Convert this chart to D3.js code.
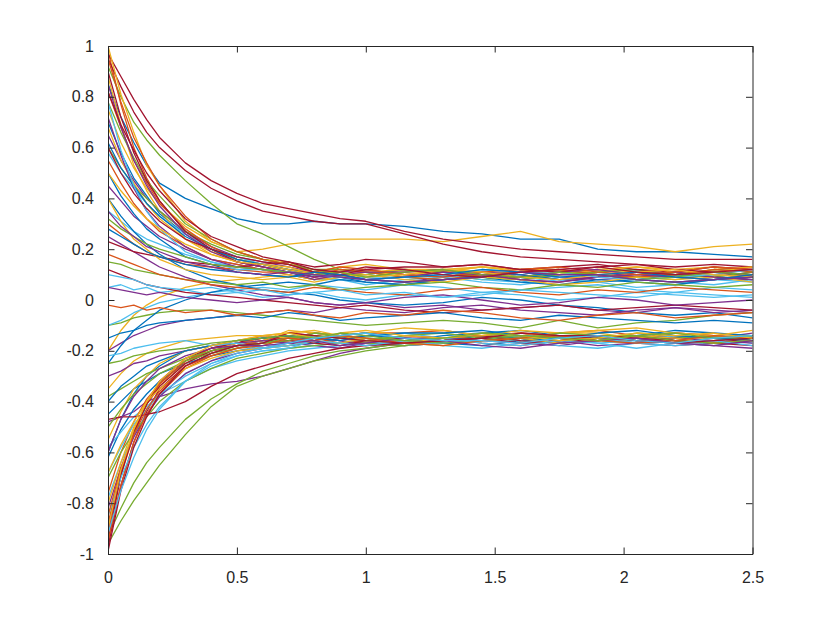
<!DOCTYPE html>
<html><head><meta charset="utf-8">
<script src="https://cdn.jsdelivr.net/npm/d3@7"></script>
<style>body{margin:0;background:#fff}svg{display:block}</style>
</head><body>
<svg id="chart" width="830" height="623"></svg>
<script>
// time samples (x) shared by every trajectory
const timePoints = [0,0.05,0.1,0.15,0.2,0.3,0.4,0.5,0.6,0.7,0.8,0.9,1,1.15,1.3,1.45,1.6,1.75,1.9,2.05,2.2,2.35,2.5];

// trajectories, value at each time point
const trajectories = [
[.85,.72,.62,.53,.46,.40,.36,.32,.30,.30,.31,.30,.30,.29,.27,.26,.24,.24,.20,.19,.19,.18,.17],
[.98,.77,.60,.48,.39,.27,.20,.15,.13,.11,.09,.11,.12,.10,.09,.11,.10,.08,.09,.11,.10,.11,.09],
[.75,.62,.52,.44,.38,.29,.23,.19,.20,.22,.23,.24,.24,.24,.23,.25,.27,.23,.22,.21,.19,.21,.22],
[.45,.39,.33,.29,.25,.20,.16,.14,.12,.11,.11,.10,.08,.07,.09,.10,.11,.09,.08,.09,.11,.10,.09],
[.92,.80,.70,.63,.57,.47,.38,.30,.26,.21,.16,.12,.11,.09,.10,.08,.09,.11,.10,.09,.08,.10,.09],
[.05,.06,.04,.05,.03,.04,.02,.03,.01,.02,.03,.01,.00,.02,.01,.03,.02,.00,.01,.03,.02,.01,.02],
[.97,.88,.79,.71,.64,.54,.47,.42,.38,.36,.34,.32,.31,.27,.24,.22,.20,.19,.18,.17,.16,.16,.16],

[.70,.58,.48,.41,.34,.26,.20,.16,.14,.12,.11,.09,.10,.12,.11,.09,.08,.10,.11,.12,.10,.09,.11],
[-.92,-.69,-.53,-.41,-.33,-.24,-.19,-.17,-.15,-.14,-.16,-.14,-.13,-.15,-.16,-.14,-.15,-.17,-.16,-.14,-.15,-.14,-.16],
[.88,.69,.53,.43,.35,.24,.18,.15,.13,.12,.11,.10,.09,.10,.11,.13,.12,.12,.10,.09,.10,.11,.13],
[-.48,-.46,-.44,-.40,-.38,-.35,-.33,-.32,-.30,-.27,-.24,-.21,-.19,-.17,-.16,-.15,-.16,-.14,-.15,-.16,-.14,-.15,-.13],
[-.93,-.82,-.72,-.64,-.58,-.47,-.39,-.33,-.28,-.25,-.22,-.20,-.19,-.17,-.16,-.15,-.16,-.14,-.15,-.16,-.15,-.14,-.15],
[.35,.31,.27,.24,.22,.18,.15,.13,.12,.10,.08,.08,.09,.09,.10,.08,.07,.09,.10,.08,.07,.06,.08],
[.95,.84,.74,.66,.60,.51,.44,.39,.35,.33,.31,.30,.30,.26,.22,.19,.17,.16,.15,.14,.13,.14,.13],

[-.62,-.51,-.43,-.37,-.32,-.25,-.20,-.18,-.16,-.15,-.13,-.14,-.15,-.16,-.14,-.13,-.12,-.14,-.15,-.14,-.12,-.13,-.14],
[.55,.46,.38,.32,.27,.21,.16,.14,.12,.10,.08,.10,.11,.11,.12,.10,.09,.11,.12,.10,.09,.08,.10],
[-.20,-.12,-.06,-.02,.01,.05,.07,.08,.09,.10,.08,.09,.11,.10,.12,.11,.09,.10,.12,.11,.10,.12,.13],
[.65,.55,.47,.40,.35,.27,.21,.17,.15,.13,.11,.11,.12,.10,.09,.11,.10,.08,.09,.11,.10,.11,.09],
[-.96,-.87,-.79,-.72,-.65,-.53,-.42,-.34,-.30,-.27,-.24,-.22,-.20,-.18,-.17,-.15,-.16,-.17,-.15,-.14,-.16,-.15,-.14],
[-.58,-.52,-.46,-.42,-.37,-.32,-.27,-.24,-.22,-.20,-.19,-.18,-.17,-.17,-.16,-.15,-.17,-.16,-.14,-.15,-.17,-.18,-.16],
[-.97,-.73,-.56,-.44,-.35,-.26,-.21,-.18,-.17,-.14,-.15,-.16,-.17,-.18,-.17,-.16,-.14,-.15,-.15,-.17,-.18,-.17,-.16],

[.50,.41,.34,.28,.24,.17,.14,.11,.10,.09,.10,.09,.07,.06,.08,.09,.10,.08,.07,.08,.10,.09,.08],
[-.88,-.67,-.52,-.41,-.33,-.24,-.19,-.17,-.15,-.15,-.16,-.14,-.13,-.13,-.12,-.14,-.15,-.13,-.12,-.14,-.15,-.16,-.14],
[1.0,.81,.66,.53,.45,.31,.23,.19,.16,.15,.11,.13,.14,.12,.11,.13,.12,.10,.11,.13,.12,.13,.11],
[.25,.22,.19,.16,.13,.09,.06,.04,.02,.01,-.01,-.02,-.01,-.03,-.02,-.04,-.03,-.02,-.04,-.05,-.03,-.04,-.05],
[.60,.52,.45,.40,.35,.27,.22,.18,.16,.14,.12,.10,.10,.12,.11,.09,.08,.10,.11,.12,.10,.09,.11],
[-.78,-.64,-.53,-.45,-.38,-.29,-.24,-.20,-.18,-.17,-.14,-.16,-.14,-.13,-.15,-.16,-.14,-.15,-.17,-.16,-.14,-.15,-.14],
[.23,.21,.19,.18,.17,.15,.14,.13,.14,.15,.13,.14,.16,.15,.13,.14,.12,.13,.14,.12,.11,.13,.12],

[-.45,-.40,-.35,-.32,-.29,-.25,-.22,-.20,-.19,-.18,-.17,-.15,-.14,-.15,-.17,-.18,-.16,-.15,-.14,-.16,-.17,-.16,-.14],
[.82,.68,.55,.46,.38,.28,.21,.16,.14,.12,.10,.09,.08,.07,.08,.09,.11,.10,.10,.08,.07,.08,.09],
[-.35,-.29,-.24,-.21,-.19,-.16,-.15,-.14,-.14,-.13,-.12,-.14,-.13,-.11,-.12,-.14,-.15,-.13,-.12,-.11,-.13,-.14,-.12],
[-.82,-.66,-.54,-.45,-.38,-.29,-.24,-.21,-.19,-.17,-.18,-.19,-.17,-.16,-.16,-.15,-.17,-.18,-.16,-.15,-.17,-.18,-.19],
[-.10,-.09,-.07,-.06,-.05,-.04,-.04,-.05,-.06,-.07,-.08,-.09,-.10,-.09,-.08,-.09,-.11,-.08,-.11,-.09,-.08,-.06,-.05],
[.58,.50,.44,.38,.33,.26,.20,.17,.14,.12,.10,.08,.06,.08,.09,.07,.06,.08,.07,.05,.06,.08,.07],
[-.95,-.69,-.52,-.41,-.32,-.23,-.19,-.17,-.14,-.15,-.13,-.14,-.16,-.17,-.15,-.14,-.13,-.15,-.16,-.15,-.13,-.14,-.15],

[.40,.33,.27,.22,.18,.12,.08,.06,.04,.03,.02,.00,-.01,-.02,-.01,.01,.00,-.02,-.03,-.05,-.06,-.05,-.07],
[-.76,-.60,-.48,-.39,-.33,-.24,-.20,-.18,-.16,-.13,-.14,-.15,-.16,-.17,-.16,-.15,-.13,-.14,-.14,-.16,-.17,-.16,-.15],
[.68,.55,.46,.38,.32,.24,.19,.16,.14,.13,.10,.09,.11,.12,.12,.13,.11,.10,.12,.13,.11,.10,.09],
[-.20,-.17,-.14,-.12,-.10,-.08,-.07,-.06,-.05,-.04,-.05,-.03,-.04,-.05,-.03,-.02,-.04,-.05,-.06,-.04,-.03,-.05,-.04],
[.78,.66,.56,.47,.41,.30,.24,.19,.16,.14,.12,.12,.11,.09,.08,.10,.11,.12,.10,.09,.10,.12,.11],
[-.68,-.58,-.49,-.43,-.37,-.30,-.25,-.22,-.20,-.19,-.18,-.17,-.16,-.18,-.17,-.15,-.16,-.18,-.19,-.17,-.16,-.15,-.17],
[.90,.72,.58,.47,.39,.27,.20,.15,.13,.11,.09,.10,.08,.09,.11,.10,.08,.07,.09,.10,.11,.09,.08],

[-.60,-.47,-.37,-.30,-.26,-.20,-.18,-.16,-.15,-.14,-.16,-.14,-.13,-.15,-.16,-.14,-.15,-.17,-.16,-.14,-.15,-.14,-.16],
[.30,.26,.22,.19,.17,.14,.13,.12,.11,.11,.10,.12,.11,.09,.08,.10,.11,.12,.10,.09,.10,.12,.11],
[-.80,-.64,-.50,-.41,-.34,-.25,-.20,-.17,-.16,-.12,-.13,-.14,-.15,-.16,-.15,-.14,-.12,-.13,-.13,-.15,-.16,-.15,-.14],
[.72,.57,.44,.35,.29,.21,.16,.13,.12,.11,.08,.10,.11,.11,.12,.10,.09,.11,.12,.10,.09,.08,.10],
[-.70,-.60,-.52,-.46,-.40,-.32,-.27,-.23,-.21,-.19,-.18,-.17,-.17,-.18,-.16,-.15,-.15,-.14,-.16,-.17,-.15,-.14,-.16],
[-.10,-.08,-.05,-.03,-.01,.01,.03,.04,.05,.04,.06,.05,.04,.06,.05,.03,.04,.05,.06,.04,.03,.05,.04],
[.12,.10,.08,.06,.05,.03,.02,.01,.00,-.01,-.02,-.03,-.02,-.04,-.05,-.04,-.03,-.02,-.04,-.03,-.02,-.03,-.04],

[-.25,-.18,-.12,-.08,-.04,.00,.03,.05,.06,.07,.06,.08,.07,.06,.08,.09,.07,.06,.08,.07,.06,.08,.09],
[-.95,-.73,-.56,-.45,-.37,-.27,-.22,-.19,-.17,-.16,-.15,-.17,-.16,-.14,-.15,-.17,-.18,-.16,-.15,-.14,-.16,-.17,-.15],
[.40,.31,.24,.20,.16,.12,.10,.09,.08,.09,.07,.09,.10,.08,.07,.09,.08,.06,.07,.09,.08,.09,.07],
[-.30,-.28,-.25,-.24,-.22,-.20,-.18,-.17,-.16,-.17,-.15,-.16,-.18,-.17,-.15,-.16,-.17,-.16,-.18,-.17,-.15,-.16,-.17],
[.15,.14,.12,.11,.10,.08,.07,.06,.07,.05,.06,.04,.05,.06,.07,.05,.04,.06,.05,.07,.06,.05,.06],
[-.85,-.70,-.58,-.49,-.42,-.32,-.26,-.22,-.20,-.19,-.16,-.17,-.15,-.16,-.18,-.19,-.17,-.16,-.15,-.17,-.18,-.17,-.15],
[-.90,-.68,-.52,-.41,-.34,-.25,-.20,-.18,-.17,-.16,-.17,-.18,-.16,-.15,-.15,-.14,-.16,-.17,-.15,-.14,-.16,-.17,-.18],

[.62,.52,.45,.38,.33,.25,.20,.16,.14,.12,.10,.09,.08,.07,.08,.09,.11,.10,.10,.08,.07,.08,.09],
[.18,.16,.14,.12,.10,.08,.06,.05,.04,.03,.05,.04,.03,.02,.04,.05,.03,.02,.04,.03,.05,.04,.03],
[-.55,-.44,-.35,-.30,-.25,-.20,-.18,-.16,-.14,-.15,-.13,-.14,-.16,-.17,-.15,-.14,-.13,-.15,-.16,-.15,-.13,-.14,-.15],
[.85,.68,.55,.45,.37,.26,.19,.15,.13,.11,.09,.10,.08,.09,.11,.10,.08,.07,.09,.10,.11,.09,.08],
[-.38,-.35,-.32,-.29,-.27,-.23,-.20,-.18,-.17,-.15,-.14,-.15,-.16,-.14,-.13,-.15,-.14,-.16,-.15,-.13,-.14,-.15,-.16],
[.78,.59,.45,.35,.28,.19,.15,.12,.12,.11,.10,.09,.08,.09,.10,.12,.11,.11,.09,.08,.09,.10,.12],
[-.47,-.46,-.46,-.45,-.44,-.40,-.34,-.29,-.26,-.23,-.21,-.19,-.18,-.17,-.16,-.15,-.17,-.16,-.14,-.15,-.16,-.17,-.15],

[-.40,-.34,-.30,-.26,-.24,-.20,-.18,-.16,-.15,-.14,-.15,-.16,-.14,-.13,-.13,-.12,-.14,-.15,-.13,-.12,-.14,-.15,-.16],
[.95,.78,.64,.54,.45,.33,.24,.19,.16,.14,.11,.13,.12,.10,.09,.11,.12,.13,.11,.10,.11,.13,.12],
[-.68,-.57,-.48,-.40,-.35,-.27,-.23,-.20,-.19,-.18,-.16,-.17,-.15,-.17,-.18,-.16,-.15,-.17,-.16,-.14,-.15,-.17,-.16],
[.05,.04,.03,.02,.03,.01,.00,-.01,.00,.01,-.01,-.02,-.01,.01,.02,.00,-.02,-.01,.01,.00,-.02,-.01,.00],
[-.50,-.43,-.37,-.33,-.29,-.24,-.21,-.19,-.17,-.16,-.13,-.14,-.15,-.16,-.17,-.16,-.15,-.13,-.14,-.14,-.16,-.17,-.16],
[-.22,-.21,-.19,-.18,-.17,-.16,-.18,-.17,-.19,-.18,-.16,-.17,-.18,-.16,-.15,-.17,-.18,-.16,-.17,-.19,-.17,-.16,-.18],
[.60,.50,.42,.36,.31,.24,.20,.17,.15,.14,.11,.10,.12,.13,.13,.14,.12,.11,.13,.14,.12,.11,.10],

[-.15,-.13,-.12,-.10,-.09,-.08,-.07,-.06,-.07,-.05,-.06,-.08,-.07,-.06,-.05,-.07,-.08,-.06,-.07,-.08,-.09,-.08,-.09],
[-.85,-.66,-.53,-.43,-.36,-.26,-.22,-.19,-.18,-.15,-.16,-.14,-.15,-.17,-.18,-.16,-.15,-.14,-.16,-.17,-.16,-.14,-.15],
[.50,.43,.37,.32,.28,.22,.18,.15,.14,.12,.10,.11,.09,.10,.12,.11,.09,.08,.10,.11,.12,.10,.09],
[-.60,-.47,-.38,-.32,-.27,-.22,-.19,-.18,-.18,-.17,-.16,-.18,-.17,-.15,-.16,-.18,-.19,-.17,-.16,-.15,-.17,-.18,-.16],
[.32,.28,.25,.22,.20,.17,.14,.13,.12,.11,.10,.11,.09,.11,.12,.10,.09,.11,.10,.08,.09,.11,.10],
[.10,.09,.08,.06,.05,.04,.05,.03,.04,.02,.03,.04,.02,.03,.01,.02,.04,.03,.02,.01,.03,.02,.01],
[-.99,-.75,-.58,-.46,-.37,-.26,-.21,-.18,-.17,-.13,-.14,-.15,-.16,-.17,-.16,-.15,-.13,-.14,-.14,-.16,-.17,-.16,-.15],

[.28,.25,.22,.19,.17,.14,.12,.11,.10,.09,.11,.10,.08,.09,.10,.12,.11,.09,.10,.11,.09,.08,.10],
[-.02,-.03,-.02,-.04,-.03,-.05,-.04,-.06,-.05,-.04,-.06,-.07,-.05,-.06,-.04,-.05,-.07,-.08,-.06,-.05,-.07,-.06,-.05],
[-.90,-.67,-.51,-.40,-.32,-.23,-.18,-.16,-.14,-.13,-.15,-.13,-.12,-.14,-.15,-.13,-.14,-.16,-.15,-.13,-.14,-.13,-.15],
[.35,.29,.25,.21,.19,.15,.13,.11,.10,.11,.10,.09,.08,.07,.08,.09,.11,.10,.10,.08,.07,.08,.09],
[-.25,-.24,-.22,-.21,-.20,-.19,-.17,-.16,-.15,-.14,-.15,-.13,-.14,-.16,-.15,-.13,-.14,-.15,-.16,-.14,-.13,-.15,-.14],
[-.92,-.75,-.62,-.51,-.43,-.32,-.25,-.21,-.19,-.17,-.15,-.14,-.13,-.15,-.16,-.16,-.17,-.15,-.14,-.16,-.17,-.15,-.14],
[.82,.69,.59,.50,.43,.32,.25,.21,.17,.15,.12,.11,.13,.12,.10,.09,.11,.12,.13,.11,.10,.11,.12]
];

const xTicks = [0, 0.5, 1, 1.5, 2, 2.5];
const yTicks = [-1, -0.8, -0.6, -0.4, -0.2, 0, 0.2, 0.4, 0.6, 0.8, 1];
const palette = ["#0072BD","#D95319","#EDB120","#7E2F8E","#77AC30","#4DBEEE","#A2142F"];

const W = 830, H = 623;
const plot = {left: 108, right: 752.5, top: 46, bottom: 554};
const svg = d3.select("#chart");

const x = d3.scaleLinear().domain([0, 2.5]).range([plot.left, plot.right]);
const y = d3.scaleLinear().domain([-1, 1]).range([plot.bottom, plot.top]);
const color = d3.scaleOrdinal().domain(d3.range(palette.length)).range(palette);

svg.append("rect").attr("width", W).attr("height", H).attr("fill", "#fff");

svg.append("defs").append("clipPath").attr("id", "clip")
  .append("rect").attr("x", plot.left).attr("y", plot.top - 1)
  .attr("width", plot.right - plot.left).attr("height", plot.bottom - plot.top + 2);

const line = d3.line()
  .x((d, i) => x(timePoints[i]))
  .y(d => y(d));

svg.append("g").attr("clip-path", "url(#clip)")
  .selectAll("path").data(trajectories).join("path")
  .attr("d", line)
  .attr("fill", "none")
  .attr("stroke", (d, i) => color(i % palette.length))
  .attr("stroke-width", 1.3)
  .attr("stroke-linejoin", "round");

const fmt = d => String(+d.toFixed(1));
const tickLen = 6.5;
const axisColor = "#262626";

function styleAxis(g) {
  g.selectAll(".domain").attr("stroke", axisColor).attr("stroke-width", 1);
  g.selectAll(".tick line").attr("stroke", axisColor).attr("stroke-width", 1);
  g.selectAll(".tick text").attr("fill", axisColor)
    .style("font-family", "'Liberation Sans', Arial, Helvetica, sans-serif")
    .style("font-size", "16px");
}

svg.append("g").attr("transform", `translate(0,${plot.bottom})`)
  .call(d3.axisBottom(x).tickValues(xTicks).tickFormat(fmt)
    .tickSizeInner(-tickLen).tickSizeOuter(0).tickPadding(18))
  .call(styleAxis);

svg.append("g").attr("transform", `translate(0,${plot.top})`)
  .call(d3.axisTop(x).tickValues(xTicks).tickFormat("")
    .tickSizeInner(-tickLen).tickSizeOuter(0))
  .call(styleAxis);

svg.append("g").attr("transform", `translate(${plot.left},0)`)
  .call(d3.axisLeft(y).tickValues(yTicks).tickFormat(fmt)
    .tickSizeInner(-tickLen).tickSizeOuter(0).tickPadding(14))
  .call(styleAxis);

svg.append("g").attr("transform", `translate(${plot.right},0)`)
  .call(d3.axisRight(y).tickValues(yTicks).tickFormat("")
    .tickSizeInner(-tickLen).tickSizeOuter(0))
  .call(styleAxis);
</script>
</body></html>
